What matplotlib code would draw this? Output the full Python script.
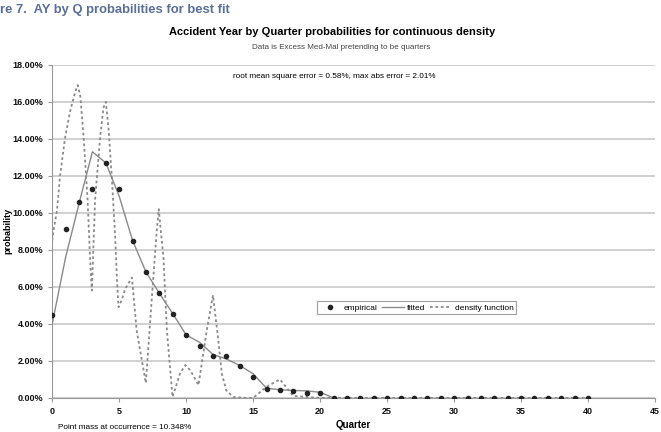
import numpy as np
import matplotlib.pyplot as plt

plt.rcParams['font.family'] = ['Liberation Sans', 'DejaVu Sans']

# empirical probabilities by quarter (%)
quarters = np.arange(0, 41)
empirical = [4.5, 9.1, 10.6, 11.3, 12.7, 11.3, 8.5, 6.8, 5.65, 4.55,
             3.4, 2.8, 2.25, 2.25, 1.7, 1.15, 0.47, 0.4, 0.36, 0.27,
             0.24] + [0.0] * 20

# fitted curve (%)
fit_q = np.arange(0, 22)
fitted = [4.0, 7.6, 10.5, 13.3, 12.7, 10.9, 8.5, 6.8, 5.65, 4.55,
          3.4, 3.0, 2.35, 2.1, 1.75, 1.3, 0.52, 0.44, 0.4, 0.38,
          0.3, 0.0]

# continuous density function (%)
dens_q = [0.0, 0.1, 0.35, 0.6, 0.97, 1.34, 1.7, 1.9, 2.1, 2.34, 2.64, 2.84, 2.96,
          3.2, 3.58, 3.83, 4.0, 4.2, 4.45, 4.7, 4.83, 4.95, 5.2, 5.45, 5.95,
          6.3, 6.99, 7.44, 7.8, 7.95, 8.3, 8.56, 8.98, 9.55, 9.93, 10.3,
          10.92, 11.54, 12.0, 12.4, 12.66, 13.0, 13.5, 14.5, 15.0, 16.0,
          17.0, 18.0, 20.0, 25.0, 30.0, 35.0, 40.0]
density = [8.5, 9.05, 10.1, 12.1, 14.1, 15.5, 16.5, 16.9, 16.3, 14.1, 10.7, 7.3, 5.8,
           10.7, 14.1, 15.7, 16.0, 14.6, 11.9, 8.7, 6.4, 4.9, 5.3, 5.9, 6.5,
           3.66, 0.8, 5.46, 9.0, 10.2, 7.6, 3.66, 0.05, 1.33, 1.77, 1.5,
           0.69, 3.66, 5.55, 3.1, 1.3, 0.4, 0.05, 0.0, 0.0, 0.6,
           1.0, 0.1, 0.0, 0.0, 0.0, 0.0, 0.0]

yticks = np.arange(0, 19, 2)

fig = plt.figure(figsize=(6.61, 4.32), dpi=100)
ax = fig.add_axes([0.079, 0.079, 0.912, 0.771])

ax.plot(dens_q, density, color='#8a8a8a', linestyle=(0, (1.5, 1.5)), lw=1.3,
        label='density function', zorder=2)
ax.plot(fit_q, fitted, color='#8a8a8a', lw=1.0, label='fitted', zorder=3)
ax.plot(quarters, empirical, linestyle='none', marker='o', ms=3,
        color='#222222', label='empirical', zorder=4)

ax.set_xlim(0, 45)
ax.set_ylim(0, 18)
ax.set_xticks(range(0, 46, 5))
ax.set_yticks(yticks)
ax.set_yticklabels(['%.2f%%' % v for v in yticks])
ax.yaxis.grid(True, color='#c8c8c8', lw=1.2)
ax.set_axisbelow(True)
for s in ['top', 'right']:
    ax.spines[s].set_visible(False)
for s in ['left', 'bottom']:
    ax.spines[s].set_color('#999999')
ax.tick_params(axis='both', labelsize=6.5, colors='#999999', labelcolor='#111111',
               length=3, width=0.8)
for lbl in ax.get_xticklabels() + ax.get_yticklabels():
    lbl.set_fontweight('bold')

ax.set_xlabel('Quarter', fontsize=7, fontweight='bold', labelpad=3)
ax.set_ylabel('probability', fontsize=6.5, fontweight='bold')
ax.yaxis.set_label_coords(-0.066, 0.5)

h, l = ax.get_legend_handles_labels()
leg = ax.legend(h[::-1], l[::-1], ncol=3, fontsize=6, loc='center',
                bbox_to_anchor=(0.604, 0.271), frameon=True, fancybox=False,
                handlelength=2.6, columnspacing=0.5, handletextpad=0.4,
                borderpad=0.3, borderaxespad=0)
leg.get_frame().set_edgecolor('#888888')
leg.get_frame().set_linewidth(0.8)

fig.text(0.0, 0.99, 're 7.  AY by Q probabilities for best fit', fontsize=9.4,
         fontweight='bold', color='#5a6e98', ha='left', va='top')
fig.text(0.502, 0.926, 'Accident Year by Quarter probabilities for continuous density',
         fontsize=8, fontweight='bold', ha='center', va='center')
fig.text(0.516, 0.889, 'Data is Excess Med-Mal pretending to be quarters',
         fontsize=5.8, color='#444444', ha='center', va='center')
fig.text(0.352, 0.822, 'root mean square error = 0.58%, max abs error = 2.01%',
         fontsize=5.9, ha='left', va='center')
fig.text(0.088, 0.01, 'Point mass at occurrence = 10.348%',
         fontsize=5.9, ha='left', va='center')

fig.savefig('out.png', dpi=100)
